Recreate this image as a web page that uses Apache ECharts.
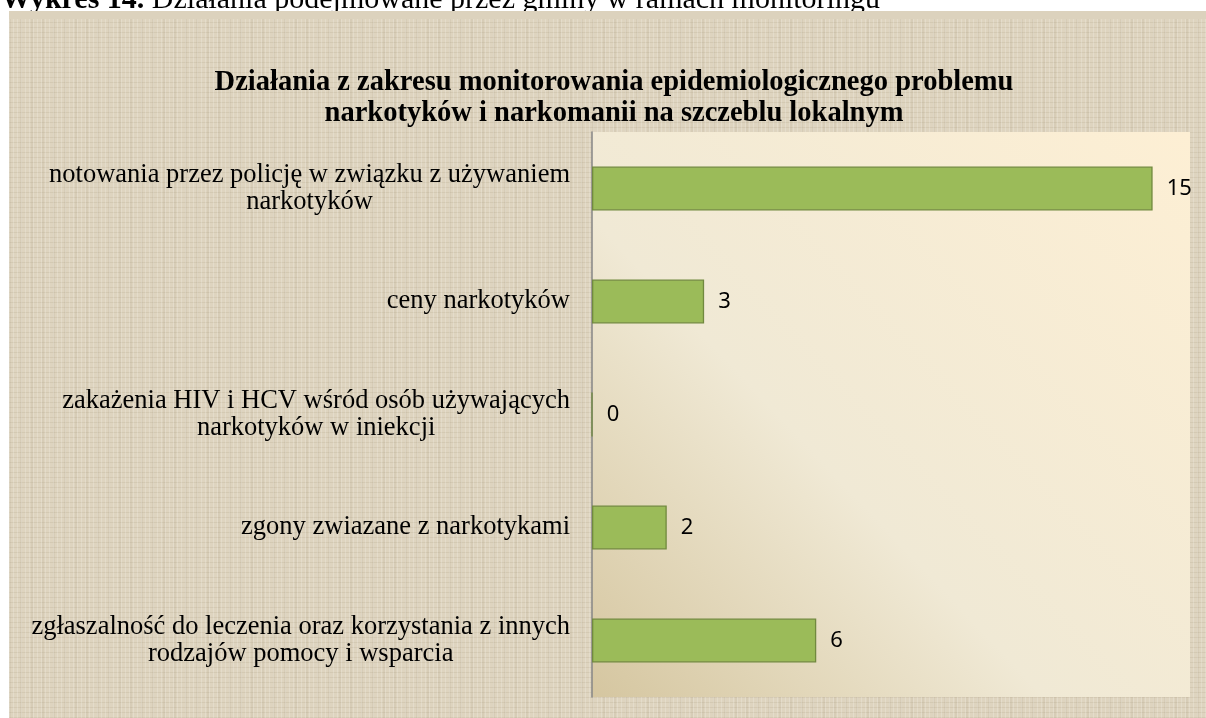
<!DOCTYPE html>
<html>
<head>
<meta charset="utf-8">
<script src="https://cdn.jsdelivr.net/npm/echarts@6/dist/echarts.min.js"></script>
<style>
  html, body { margin: 0; padding: 0; background: #fff; }
  #paper {
    position: absolute; left: 9px; top: 11px; width: 1197px; height: 707px;
    background-color: #ded4bf;
    background-image:
      repeating-linear-gradient(90deg, rgba(255,255,255,0.18) 0px, rgba(255,255,255,0.18) 1px, transparent 1px, transparent 4px),
      repeating-linear-gradient(0deg, rgba(150,135,105,0.14) 0px, rgba(150,135,105,0.14) 1px, transparent 1px, transparent 5px),
      repeating-linear-gradient(90deg, rgba(140,125,95,0.09) 0px, rgba(140,125,95,0.09) 2px, transparent 2px, transparent 11px);
  }
  #ls { position: absolute; left: 0; top: 0; width: 1206px; height: 718px; }
</style>
</head>
<body>
<div id="paper"></div>
<div id="ls"></div>
<script type="text/javascript">
var categories = [
    ['notowania przez policję w związku z używaniem', 'narkotyków'],
    ['ceny narkotyków'],
    ['zakażenia HIV i HCV wśród osób używających', 'narkotyków w iniekcji'],
    ['zgony zwiazane z narkotykami'],
    ['zgłaszalność do leczenia oraz korzystania z innych', 'rodzajów pomocy i wsparcia']
];
var values = [15, 3, 0, 2, 6];
var titleText = 'Działania z zakresu monitorowania epidemiologicznego problemu\nnarkotyków i narkomanii na szczeblu lokalnym';

var chart = echarts.init(document.getElementById('ls'), null, {renderer: 'canvas'});
var option = {
    backgroundColor: 'transparent',
    animation: false,
    title: {
        text: titleText,
        left: 609,
        textAlign: 'center',
        top: 62,
        textStyle: {
            fontFamily: 'Liberation Serif',
            fontWeight: 'bold',
            fontSize: 28.5,
            lineHeight: 31,
            color: '#000'
        }
    },
    graphic: [{
        type: 'text',
        x: 1,
        y: 15,
        z: 10,
        style: {
            text: '{b|Wykres 14.} Działania podejmowane przez gminy w ramach monitoringu',
            font: '30px "Liberation Serif"',
            fill: '#000',
            align: 'left',
            verticalAlign: 'bottom',
            rich: {
                b: { fontWeight: 'bold', fontSize: 30, fontFamily: 'Liberation Serif' }
            }
        }
    }, {
        // top edge of the textured chart area covers the header's descenders
        type: 'rect',
        z: 11,
        shape: { x: 9, y: 11, width: 1197, height: 8 },
        style: { fill: '#dcd2bd' }
    }],
    grid: {
        left: 592,
        top: 132,
        width: 598,
        height: 565,
        show: true,
        borderWidth: 0,
        backgroundColor: new echarts.graphic.LinearGradient(0, 1, 1, 0, [
            {offset: 0, color: '#d5c6a0'},
            {offset: 0.4, color: '#f0e9d5'},
            {offset: 1, color: '#fdefd4'}
        ])
    },
    xAxis: {
        type: 'value',
        min: 0,
        max: 16,
        show: false
    },
    yAxis: {
        type: 'category',
        inverse: true,
        data: categories.map(function (c) { return c.join('\n'); }),
        axisTick: { show: false },
        axisLine: { lineStyle: { color: '#868686', width: 1.5 } },
        axisLabel: {
            margin: 22,
            color: '#000',
            fontFamily: 'Liberation Serif',
            fontSize: 26.5,
            lineHeight: 27,
            formatter: function (v) {
                return v.split('\n').map(function (s) { return '{a|' + s + '}'; }).join('\n');
            },
            rich: {
                a: { fontFamily: 'Liberation Serif', fontSize: 26.5, lineHeight: 27, color: '#000', align: 'center' }
            }
        }
    },
    series: [{
        type: 'bar',
        data: values,
        barWidth: 44,
        itemStyle: {
            color: '#9bbb59',
            borderColor: '#71893f',
            borderWidth: 1.3
        },
        label: {
            show: true,
            position: 'right',
            distance: 14,
            color: '#000',
            fontFamily: 'Noto Sans',
            fontSize: 22
        }
    }]
};
chart.setOption(option);
</script>
</body>
</html>
